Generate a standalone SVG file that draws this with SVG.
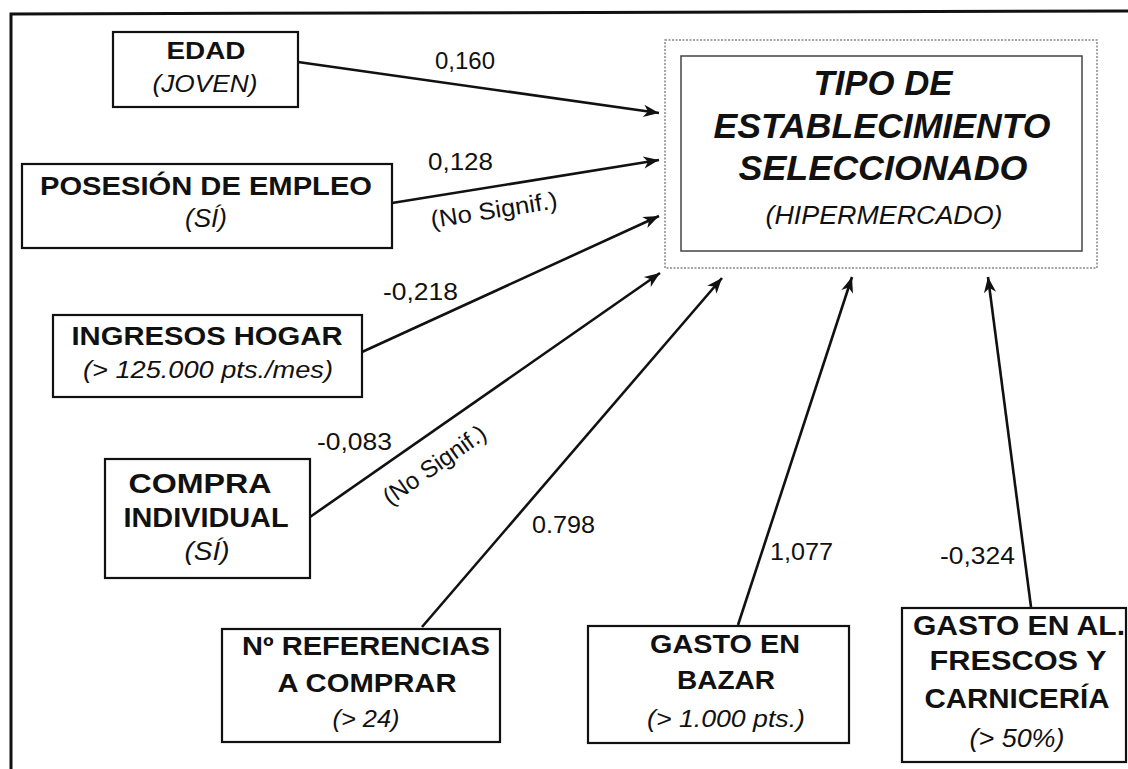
<svg xmlns="http://www.w3.org/2000/svg" width="1128" height="769" viewBox="0 0 1128 769">
<style>
.box{fill:#fff;stroke:#111;stroke-width:2.2}
text{lengthAdjust:spacingAndGlyphs}
.b{font-family:"Liberation Sans",Arial,sans-serif;font-weight:bold;fill:#111;text-anchor:middle}
.i{font-family:"Liberation Sans",Arial,sans-serif;font-style:italic;fill:#111;text-anchor:middle}
.t{font-family:"Liberation Sans",Arial,sans-serif;font-weight:bold;font-style:italic;fill:#111;text-anchor:middle;font-size:35px}
.n{font-family:"Liberation Sans",Arial,sans-serif;fill:#111;font-size:24px}
.c{fill:none;stroke:#111;stroke-width:2.6}
</style>
<defs>
<marker id="ah" markerUnits="userSpaceOnUse" markerWidth="20" markerHeight="20" viewBox="-16 -8 18 16" refX="0" refY="0" orient="auto">
<path d="M0,0 L-14,-5.5 L-10,0 L-14,5.5 Z" fill="#111"/>
</marker>
</defs>
<rect width="1128" height="769" fill="#fff"/>
<path d="M11,769 L11,14 L1128,11" fill="none" stroke="#111" stroke-width="3"/>

<g id="connectors">
<line class="c" x1="298" y1="62" x2="659" y2="113" marker-end="url(#ah)"/>
<line class="c" x1="392" y1="203" x2="659" y2="160" marker-end="url(#ah)"/>
<line class="c" x1="362" y1="352" x2="659" y2="216" marker-end="url(#ah)"/>
<line class="c" x1="310" y1="517" x2="660" y2="273" marker-end="url(#ah)"/>
<line class="c" x1="422" y1="627" x2="722" y2="278" marker-end="url(#ah)"/>
<line class="c" x1="738" y1="625" x2="852" y2="277" marker-end="url(#ah)"/>
<line class="c" x1="1031" y1="607" x2="988" y2="277" marker-end="url(#ah)"/>
<text class="n" x="435" y="69" textLength="60" lengthAdjust="spacingAndGlyphs">0,160</text>
<text class="n" x="428" y="170" textLength="65" lengthAdjust="spacingAndGlyphs">0,128</text>
<text class="n" transform="translate(432,228) rotate(-9)" textLength="128" lengthAdjust="spacingAndGlyphs">(No Signif.)</text>
<text class="n" x="383" y="300" textLength="75" lengthAdjust="spacingAndGlyphs">-0,218</text>
<text class="n" x="317" y="450" textLength="75" lengthAdjust="spacingAndGlyphs">-0,083</text>
<text class="n" transform="translate(390,506) rotate(-35)" textLength="120" lengthAdjust="spacingAndGlyphs">(No Signif.)</text>
<text class="n" x="532" y="533" textLength="63" lengthAdjust="spacingAndGlyphs">0.798</text>
<text class="n" x="770" y="560" textLength="63" lengthAdjust="spacingAndGlyphs">1,077</text>
<text class="n" x="940" y="564" textLength="75" lengthAdjust="spacingAndGlyphs">-0,324</text>
</g>

<g id="target">
<rect x="665" y="40" width="432" height="228" fill="none" stroke="#888" stroke-width="1.5" stroke-dasharray="2,1.5"/>
<rect x="681" y="56" width="401" height="195" fill="none" stroke="#444" stroke-width="1.5"/>
<text class="t" x="883" y="95" textLength="139" lengthAdjust="spacingAndGlyphs">TIPO DE</text>
<text class="t" x="882" y="138" textLength="337" lengthAdjust="spacingAndGlyphs">ESTABLECIMIENTO</text>
<text class="t" x="883" y="180" textLength="289" lengthAdjust="spacingAndGlyphs">SELECCIONADO</text>
<text class="i" x="884" y="224" font-size="26" textLength="237" lengthAdjust="spacingAndGlyphs">(HIPERMERCADO)</text>
</g>

<g id="edad">
<rect class="box" x="113" y="32" width="185" height="75"/>
<text class="b" x="206" y="59" font-size="24" textLength="79" lengthAdjust="spacingAndGlyphs">EDAD</text>
<text class="i" x="205" y="92" font-size="24" textLength="105" lengthAdjust="spacingAndGlyphs">(JOVEN)</text>
</g>

<g id="empleo">
<rect class="box" x="22" y="164" width="370" height="84"/>
<text class="b" x="206" y="195" font-size="26" textLength="332" lengthAdjust="spacingAndGlyphs">POSESIÓN DE EMPLEO</text>
<text class="i" x="206" y="227" font-size="25" textLength="42" lengthAdjust="spacingAndGlyphs">(SÍ)</text>
</g>

<g id="ingresos">
<rect class="box" x="53" y="315" width="309" height="82"/>
<text class="b" x="207" y="345" font-size="25" textLength="271" lengthAdjust="spacingAndGlyphs">INGRESOS HOGAR</text>
<text class="i" x="208" y="378" font-size="24" textLength="250" lengthAdjust="spacingAndGlyphs">(&gt; 125.000 pts./mes)</text>
</g>

<g id="compra">
<rect class="box" x="105" y="459" width="205" height="119"/>
<text class="b" x="200" y="493" font-size="27" textLength="143" lengthAdjust="spacingAndGlyphs">COMPRA</text>
<text class="b" x="206" y="527" font-size="27" textLength="165" lengthAdjust="spacingAndGlyphs">INDIVIDUAL</text>
<text class="i" x="207" y="560" font-size="25" textLength="45" lengthAdjust="spacingAndGlyphs">(SÍ)</text>
</g>

<g id="referencias">
<rect class="box" x="222" y="629" width="278" height="113"/>
<text class="b" x="366" y="655" font-size="26" textLength="248" lengthAdjust="spacingAndGlyphs">Nº REFERENCIAS</text>
<text class="b" x="367" y="692" font-size="26" textLength="179" lengthAdjust="spacingAndGlyphs">A COMPRAR</text>
<text class="i" x="366" y="727" font-size="24" textLength="67" lengthAdjust="spacingAndGlyphs">(&gt; 24)</text>
</g>

<g id="bazar">
<rect class="box" x="588" y="626" width="261" height="117"/>
<text class="b" x="725" y="653" font-size="26" textLength="150" lengthAdjust="spacingAndGlyphs">GASTO EN</text>
<text class="b" x="726" y="689" font-size="26" textLength="98" lengthAdjust="spacingAndGlyphs">BAZAR</text>
<text class="i" x="726" y="727" font-size="24" textLength="158" lengthAdjust="spacingAndGlyphs">(&gt; 1.000 pts.)</text>
</g>

<g id="frescos">
<rect class="box" x="902" y="608" width="224" height="154"/>
<text class="b" x="1019" y="635" font-size="27" textLength="212" lengthAdjust="spacingAndGlyphs">GASTO EN AL.</text>
<text class="b" x="1018" y="670" font-size="27" textLength="177" lengthAdjust="spacingAndGlyphs">FRESCOS Y</text>
<text class="b" x="1017" y="708" font-size="27" textLength="185" lengthAdjust="spacingAndGlyphs">CARNICERÍA</text>
<text class="i" x="1017" y="747" font-size="25" textLength="95" lengthAdjust="spacingAndGlyphs">(&gt; 50%)</text>
</g>
</svg>
